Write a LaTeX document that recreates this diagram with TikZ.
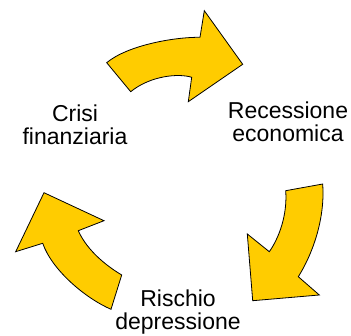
\documentclass[tikz,border=0pt]{standalone}
\usepackage{fontspec}
\setmainfont{Liberation Sans}
\usepackage{xcolor}
\definecolor{gold}{RGB}{255,204,0}
\tikzset{
    cyclearrow/.style={draw=black, line width=0.8pt, fill=gold, line join=miter},
    phase/.style={align=center, inner sep=0pt, anchor=north, font=\fontsize{23}{23}\selectfont}
}

\begin{document}
\begin{tikzpicture}[x=1pt, y=-1pt]
    \useasboundingbox (0,0) rectangle (351,336);

    % Phases of the cycle
    \node[phase] (crisi) at (75,105) {Crisi\\finanziaria};
    \node[phase] (recessione) at (288,102) {Recessione\\economica};
    \node[phase] (rischio) at (178,289.5) {Rischio\\depressione};

    % Top arrow: crisi -> recessione
    \draw[cyclearrow] (106.7,62.7) .. controls (128,45) and (175,37) .. (200,37.3)
        -- (204.3,10.7) -- (242.7,64.3) -- (188.3,101.7) -- (191.7,77.3)
        .. controls (178,73) and (150,76) .. (130.7,91.7) -- cycle;

    % Right arrow: recessione -> rischio
    \draw[cyclearrow] (322.7,184) .. controls (325,215) and (315,250) .. (298.3,276.7)
        -- (319.3,295) -- (252.7,300.7) -- (247.3,234) -- (269.3,251.7)
        .. controls (279,238) and (287.5,215) .. (285.7,190.7) -- cycle;

    % Left arrow: rischio -> crisi
    \draw[cyclearrow] (111,309.3) .. controls (85,298) and (52,270) .. (42.7,243.3)
        -- (15.7,251.7) -- (44,192.7) -- (104,220.7) -- (78.3,230.7)
        .. controls (85,246) and (100,262) .. (121.7,275) -- cycle;
\end{tikzpicture}
\end{document}
